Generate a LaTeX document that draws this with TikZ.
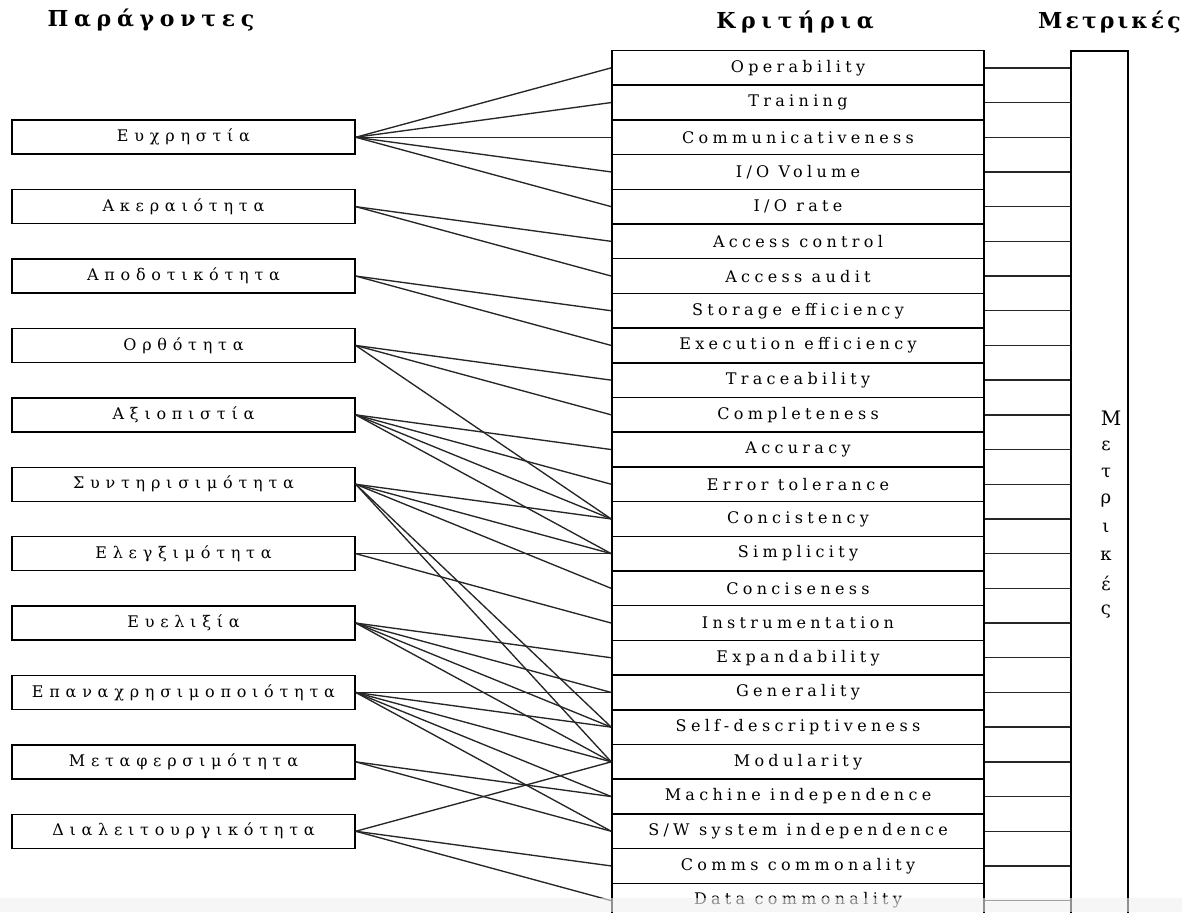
\documentclass[tikz,border=0pt]{standalone}
\usepackage{fontspec}
\setmainfont{DejaVu Serif}
\newfontfamily\lblfont{DejaVu Serif}[LetterSpace=27]
\newfontfamily\grfont{DejaVu Serif}[LetterSpace=36]
\newfontfamily\hdrfont{DejaVu Serif}[LetterSpace=26]
\newfontfamily\hdrmfont{DejaVu Serif}[LetterSpace=14]
\begin{document}
\begin{tikzpicture}[x=1pt,y=-1pt,
  crit/.style={draw=black,line width=1.5pt,minimum width=372pt,minimum height=34.7pt,inner sep=0pt,
    font=\lblfont\fontsize{16}{19}\selectfont},
  fact/.style={draw=black,line width=1.5pt,minimum width=343pt,minimum height=34pt,inner sep=0pt,
    font=\grfont\fontsize{16}{19}\selectfont},
  link/.style={draw=black!85,line width=1.35pt},
  hdr/.style={font=\hdrfont\bfseries\fontsize{22}{26}\selectfont,inner sep=0pt},
  mletter/.style={font=\rmfamily\fontsize{18}{21}\selectfont,inner sep=0pt}]
\useasboundingbox (0,0) rectangle (1182,912);

% headings
\node[hdr] (hf) at (151,20) {Παράγοντες};
\node[hdr] (hc) at (795,22) {Κριτήρια};
\node[hdr,font=\hdrmfont\bfseries\fontsize{22}{26}\selectfont,anchor=east] (hm) at (1181,22) {Μετρικές};

% criteria
\foreach \t [count=\i from 0] in {Operability,Training,Communicativeness,I/O Volume,I/O rate,Access control,Access audit,Storage efficiency,Execution efficiency,Traceability,Completeness,Accuracy,Error tolerance,Concistency,Simplicity,Conciseness,Instrumentation,Expandability,Generality,Self-descriptiveness,Modularity,Machine independence,S/W system independence,Comms commonality,Data commonality}
  \node[crit] (c\i) at (798,67.85+34.7*\i) {\t};

% factors
\foreach \t [count=\k from 0] in {Ευχρηστία,Ακεραιότητα,Αποδοτικότητα,Ορθότητα,Αξιοπιστία,Συντηρισιμότητα,Ελεγξιμότητα,Ευελιξία,Επαναχρησιμοποιότητα,Μεταφερσιμότητα,Διαλειτουργικότητα}
  \node[fact] (f\k) at (183.5,137.25+69.4*\k) {\t};

% metrics box
\node[draw=black,line width=1.5pt,minimum width=57pt,minimum height=900pt,inner sep=0pt,anchor=north west] (m) at (1070,50.5) {};
\node[mletter,font=\rmfamily\fontsize{20}{23}\selectfont] (ml0) at (1111,418) {Μ};
\foreach \l [count=\j from 1] in {ε,τ,ρ,ι,κ,έ,ς}
  \node[mletter] (ml\j) at (1106,418+27.6*\j) {\l};

% factor -> criteria links
\foreach \k/\lst in {0/{0,1,2,3,4},1/{5,6},2/{7,8},3/{9,10,13},4/{11,12,13,14},5/{13,14,15,19,20},6/{14,16},7/{17,18,19,20},8/{18,19,20,21,22},9/{21,22},10/{20,23,24}}{
  \foreach \i in \lst {\draw[link] (f\k.east) -- (c\i.west);}
}

% criteria -> metrics links
\foreach \i in {0,...,24}
  \draw[link] (c\i.east) -- (c\i.east -| m.west);

% faint bottom band of the screenshot
\fill[black!6,opacity=0.6] (0,898) rectangle (1182,912);
\end{tikzpicture}
\end{document}
